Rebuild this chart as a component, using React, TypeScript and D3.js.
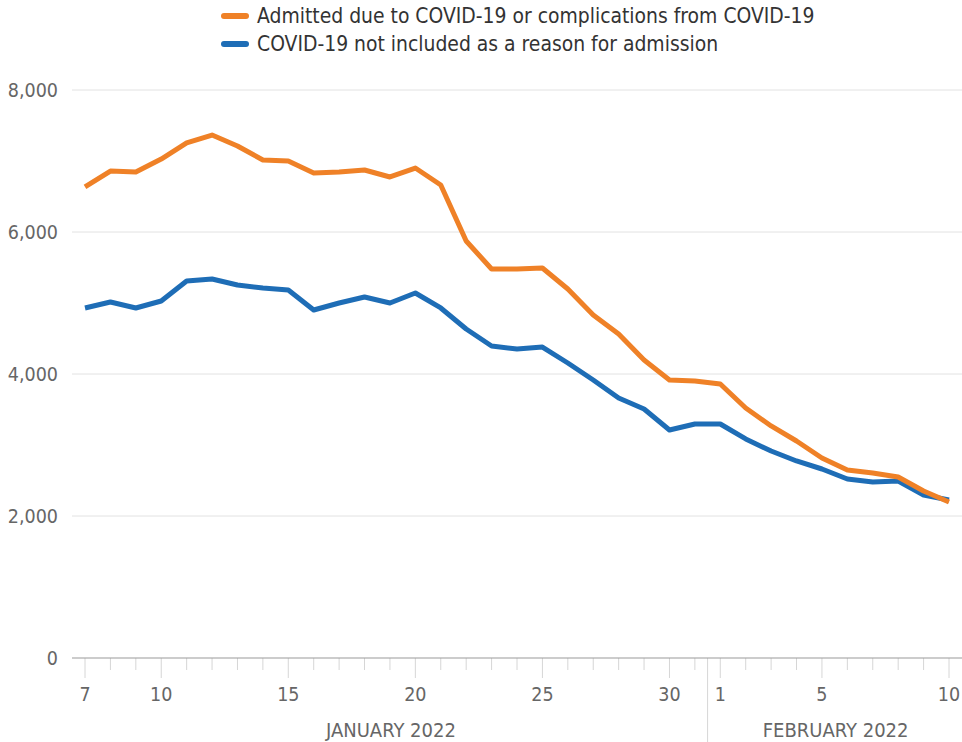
import React, { useEffect, useRef } from 'react';
import * as d3 from 'd3';

// daily values, Jan 7 - Feb 10 2022
const startDate = '2022-01-07';
const dueToCovid = [
  6634, 6859, 6845, 7028, 7254, 7366, 7211, 7014, 7000, 6831, 6845, 6873, 6775, 6901, 6662,
  5873, 5479, 5479, 5493, 5197, 4831, 4563, 4197, 3915, 3901,
  3859, 3521, 3268, 3056, 2817, 2648, 2606, 2549, 2352, 2197,
];
const notCovid = [
  4930, 5014, 4930, 5028, 5310, 5338, 5254, 5211, 5183, 4901, 5000, 5085, 5000, 5141, 4930,
  4634, 4394, 4352, 4380, 4155, 3915, 3662, 3507, 3211, 3296,
  3296, 3085, 2915, 2775, 2662, 2521, 2479, 2493, 2296, 2225,
];
const yTicks = [0, 2000, 4000, 6000, 8000];
const labeledDays = ['2022-01-07', '2022-01-10', '2022-01-15', '2022-01-20', '2022-01-25', '2022-01-30', '2022-02-01', '2022-02-05', '2022-02-10'];
const months = [
  { label: 'JANUARY 2022', from: '2022-01-07', to: '2022-01-31' },
  { label: 'FEBRUARY 2022', from: '2022-02-01', to: '2022-02-10' },
];
const legend = [
  { label: 'Admitted due to COVID-19 or complications from COVID-19', color: '#ef8127' },
  { label: 'COVID-19 not included as a reason for admission', color: '#1e6db6' },
];

const W = 962;
const H = 742;
const FONT = "'DejaVu Sans Condensed', 'Liberation Sans Narrow', sans-serif";

const draw = (node: SVGSVGElement) => {
  const svg = d3.select(node);
  svg.selectAll('*').remove();

  const parse = d3.utcParse('%Y-%m-%d');
  const start = parse(startDate) as Date;
  const dates = dueToCovid.map((_, i) => d3.utcDay.offset(start, i));

  const x = d3.scaleUtc()
    .domain([dates[0], dates[dates.length - 1]])
    .range([85, 949]);
  const y = d3.scaleLinear().domain([0, 8000]).range([658, 90]);

  // grid
  svg.append('g')
    .selectAll('line')
    .data(yTicks.filter(d => d > 0))
    .enter()
    .append('line')
    .attr('x1', 72).attr('x2', W)
    .attr('y1', d => y(d)).attr('y2', d => y(d))
    .attr('stroke', '#e2e2e2')
    .attr('stroke-width', 1);

  svg.append('g')
    .selectAll('text')
    .data(yTicks)
    .enter()
    .append('text')
    .text(d => d3.format(',')(d))
    .attr('x', 58)
    .attr('y', d => y(d) + 7)
    .attr('text-anchor', 'end')
    .attr('font-family', FONT)
    .attr('font-size', 19.5)
    .attr('fill', '#666');

  // x axis ticks
  const labeled = labeledDays.map(d => (parse(d) as Date).getTime());
  svg.append('g')
    .selectAll('line')
    .data(dates)
    .enter()
    .append('line')
    .attr('x1', d => x(d)).attr('x2', d => x(d))
    .attr('y1', 658)
    .attr('y2', d => (labeled.includes(d.getTime()) ? 678 : 670))
    .attr('stroke', '#d6d6d6')
    .attr('stroke-width', 1);

  svg.append('g')
    .selectAll('text')
    .data(labeledDays.map(d => parse(d) as Date))
    .enter()
    .append('text')
    .text(d => d3.utcFormat('%-d')(d))
    .attr('x', d => x(d))
    .attr('y', 701)
    .attr('text-anchor', 'middle')
    .attr('font-family', FONT)
    .attr('font-size', 19.5)
    .attr('fill', '#666');

  // month separator
  const sepX = (x(parse('2022-01-31') as Date) + x(parse('2022-02-01') as Date)) / 2;
  svg.append('line')
    .attr('x1', sepX).attr('x2', sepX)
    .attr('y1', 658).attr('y2', H)
    .attr('stroke', '#d6d6d6');

  svg.append('g')
    .selectAll('text')
    .data(months)
    .enter()
    .append('text')
    .text(d => d.label)
    .attr('x', d => (x(parse(d.from) as Date) + x(parse(d.to) as Date)) / 2 + 1)
    .attr('y', 737)
    .attr('text-anchor', 'middle')
    .attr('font-family', FONT)
    .attr('font-size', 20)
    .attr('fill', '#666');

  // baseline
  svg.append('line')
    .attr('x1', 72).attr('x2', W)
    .attr('y1', 658).attr('y2', 658)
    .attr('stroke', '#9a9a9a')
    .attr('stroke-width', 1.2);

  // lines
  const line = d3.line<number>()
    .x((d, i) => x(dates[i]))
    .y(d => y(d));

  [notCovid, dueToCovid].forEach((series, k) => {
    svg.append('path')
      .datum(series)
      .attr('d', line)
      .attr('fill', 'none')
      .attr('stroke', k === 0 ? legend[1].color : legend[0].color)
      .attr('stroke-width', 5)
      .attr('stroke-linejoin', 'round');
  });

  // legend
  const lg = svg.append('g')
    .selectAll('g')
    .data(legend)
    .enter()
    .append('g')
    .attr('transform', (d, i) => `translate(222, ${16 + i * 28})`);
  lg.append('line')
    .attr('x1', 2).attr('x2', 24)
    .attr('stroke', d => d.color)
    .attr('stroke-width', 6)
    .attr('stroke-linecap', 'round');
  lg.append('text')
    .text(d => d.label)
    .attr('x', 35)
    .attr('y', 7)
    .attr('font-family', FONT)
    .attr('font-size', 20.9)
    .attr('fill', '#333');
};

export default function App() {
  const ref = useRef<SVGSVGElement>(null);
  useEffect(() => {
    if (ref.current) draw(ref.current);
  }, []);
  return (
    <svg
      ref={ref}
      width={W}
      height={H}
      style={{ position: 'absolute', left: 0, top: 0, background: '#fff' }}
    />
  );
}
